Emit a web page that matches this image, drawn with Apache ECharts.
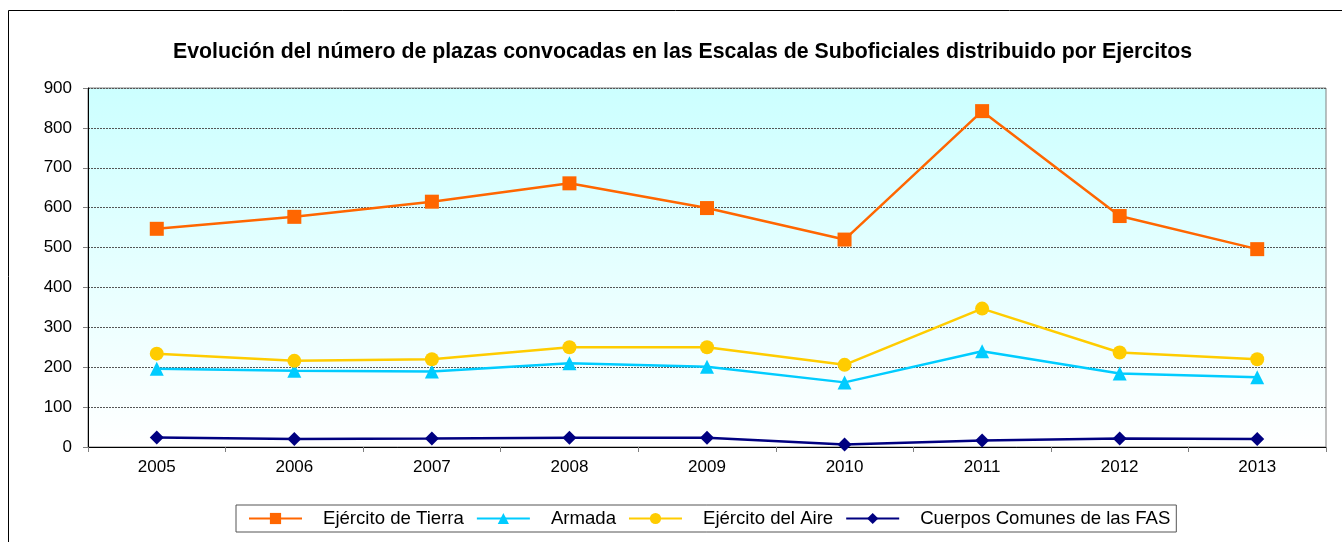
<!DOCTYPE html>
<html>
<head>
<meta charset="utf-8">
<script src="https://cdn.jsdelivr.net/npm/echarts@6/dist/echarts.min.js"></script>
<style>
  html, body { margin: 0; padding: 0; background: #fff; }
  #chart { width: 1342px; height: 542px; }
</style>
</head>
<body>
<div id="chart"></div>
<script>
const years = ['2005', '2006', '2007', '2008', '2009', '2010', '2011', '2012', '2013'];
const tierra = [547, 577, 615, 661, 599, 520, 842, 579, 496];
const armada = [196, 191, 189, 210, 201, 162, 240, 184, 175];
const aire = [234, 216, 220, 250, 250, 206, 347, 237, 220];
const cuerpos = [24, 20, 21, 23, 23, 6, 16, 21, 20];

const titleText = 'Evolución del número de plazas convocadas en las Escalas de Suboficiales distribuido por Ejercitos';
const fontFamily = '"Liberation Sans", Arial, sans-serif';

function lineSeries(name, data, color, symbol, size) {
  return {
    name: name,
    type: 'line',
    data: data,
    symbol: symbol,
    symbolSize: size,
    showSymbol: true,
    lineStyle: { color: color, width: 2.5 },
    itemStyle: { color: color },
    emphasis: { disabled: true },
  };
}

const chart = echarts.init(document.getElementById('chart'), null, { renderer: 'canvas' });
chart.setOption({
  animation: false,
  textStyle: { fontFamily: fontFamily },
  title: {
    text: titleText,
    left: 168,
    top: 37,
    textStyle: { fontSize: 21.3, fontWeight: 'bold', color: '#000', fontFamily: fontFamily },
  },
  graphic: [{
    type: 'rect',
    shape: { x: 8.5, y: 10.5, width: 1400, height: 600 },
    style: { fill: null, stroke: '#000', lineWidth: 1 },
    silent: true,
    z: -10,
  }],
  grid: {
    left: 88,
    top: 88,
    right: 16,
    bottom: 95,
    show: true,
    borderColor: '#808080',
    borderWidth: 1,
    backgroundColor: new echarts.graphic.LinearGradient(0, 0, 0, 1, [
      { offset: 0, color: '#CCFFFF' },
      { offset: 1, color: '#FFFFFF' },
    ]),
  },
  legend: {
    left: 236,
    top: 505,
    itemWidth: 53,
    itemHeight: 14,
    itemGap: 12,
    padding: [4, 6, 4, 12],
    borderColor: '#555',
    borderWidth: 1,
    textStyle: { fontSize: 18.6, color: '#000', fontFamily: fontFamily, padding: [0, 0, 0, 16] },
    data: ['Ejército de Tierra', 'Armada', 'Ejército del Aire', 'Cuerpos Comunes de las FAS'],
  },
  xAxis: {
    type: 'category',
    data: years,
    boundaryGap: true,
    axisLine: { lineStyle: { color: '#000', width: 1 } },
    axisTick: { show: true, length: 5, lineStyle: { color: '#808080' } },
    axisLabel: { color: '#000', fontSize: 17, margin: 12 },
  },
  yAxis: {
    type: 'value',
    min: 0,
    max: 900,
    interval: 100,
    axisLine: { show: true, lineStyle: { color: '#000', width: 1 } },
    axisTick: { show: true, length: 5, lineStyle: { color: '#808080' } },
    axisLabel: { color: '#000', fontSize: 17, margin: 16 },
    splitLine: { show: true, lineStyle: { color: '#555', width: 1, type: [2, 1] } },
  },
  series: [
    lineSeries('Ejército de Tierra', tierra, '#FF6600', 'rect', 14),
    lineSeries('Armada', armada, '#00CCFF', 'triangle', 14),
    lineSeries('Ejército del Aire', aire, '#FFCC00', 'circle', 14),
    lineSeries('Cuerpos Comunes de las FAS', cuerpos, '#000080', 'diamond', 14),
  ],
});
</script>
</body>
</html>
